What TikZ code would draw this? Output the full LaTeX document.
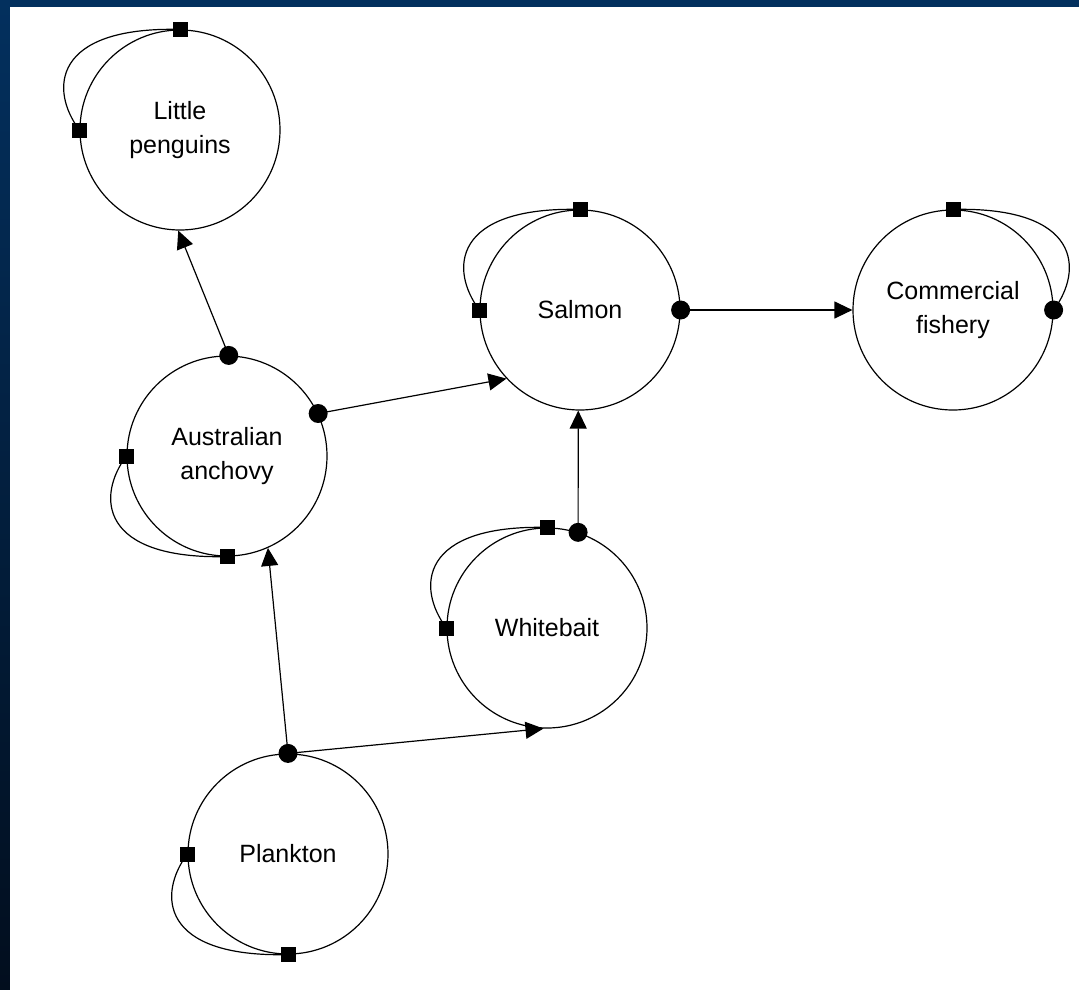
\documentclass[tikz,border=0pt]{standalone}
\usepackage{fontspec}
\setmainfont{Liberation Sans}
\usetikzlibrary{arrows.meta, calc}
\definecolor{frametop}{HTML}{03305E}
\definecolor{framebot}{HTML}{020E1E}

\begin{document}
\begin{tikzpicture}[x=1pt,y=-1pt,>={Triangle[length=18pt,width=17pt]},
			species/.style={circle,draw,line width=1.2pt,minimum size=200pt,inner sep=0pt,align=center,font=\fontsize{25}{34}\selectfont},
			selfbox/.style={rectangle,fill,minimum size=15pt,inner sep=0pt},
			outdot/.style={circle,fill,minimum size=19pt,inner sep=0pt},
			link/.style={->,line width=1.2pt},
			selfloop/.style={line width=1.2pt}]
			
			% frame
			\useasboundingbox (0,0) rectangle (1079,989);
			\fill[top color=frametop,bottom color=framebot] (0,0) rectangle (1079,989);
			\fill[white] (10,7) rectangle (1085,995);
			
			\node[species] (pen) at (180,130) {Little\\penguins};
			\node[species] (sal) at (580,310) {Salmon};
			\node[species] (fish) at (953,310) {Commercial\\fishery};
			\node[species] (anch) at (227,456) {Australian\\anchovy};
			\node[species] (white) at (547,628) {Whitebait};
			\node[species] (plank) at (288,854) {Plankton};
			
			% links between species
			\draw[link] (anch.89) -- (pen.269);
			\draw[link] (anch.25) -- (sal.223);
			\draw[link] (sal.0) -- (fish.180);
			\draw[link] (white.72) -- (sal.269);
			\draw[link] (plank.90) -- (anch.294);
			\draw[link] (plank.90) -- (white.268);
			
			% self loops
			\draw[selfloop] (pen.90) .. controls +(-128,-3) and +(-30,-40) .. (pen.180);
			\draw[selfloop] (sal.90) .. controls +(-128,-3) and +(-30,-40) .. (sal.180);
			\draw[selfloop] (white.90) .. controls +(-128,-3) and +(-30,-40) .. (white.180);
			\draw[selfloop] (fish.90) .. controls +(128,-3) and +(30,-40) .. (fish.0);
			\draw[selfloop] (anch.270) .. controls +(-128,3) and +(-30,40) .. (anch.180);
			\draw[selfloop] (plank.270) .. controls +(-128,3) and +(-30,40) .. (plank.180);
			
			% markers
			\node[selfbox] (pen-t) at (pen.90) {};
			\node[selfbox] (pen-l) at (pen.180) {};
			\node[selfbox] (sal-t) at (sal.90) {};
			\node[selfbox] (sal-l) at (sal.180) {};
			\node[outdot] (sal-r) at (sal.0) {};
			\node[selfbox] (fish-t) at (fish.90) {};
			\node[outdot] (fish-r) at (fish.0) {};
			\node[outdot] (anch-t) at (anch.89) {};
			\node[outdot] (anch-r) at (anch.25) {};
			\node[selfbox] (anch-l) at (anch.180) {};
			\node[selfbox] (anch-b) at (anch.270) {};
			\node[selfbox] (white-t) at (white.90) {};
			\node[outdot] (white-r) at (white.72) {};
			\node[selfbox] (white-l) at (white.180) {};
			\node[outdot] (plank-t) at (plank.90) {};
			\node[selfbox] (plank-l) at (plank.180) {};
			\node[selfbox] (plank-b) at (plank.270) {};
		\end{tikzpicture}
\end{document}
